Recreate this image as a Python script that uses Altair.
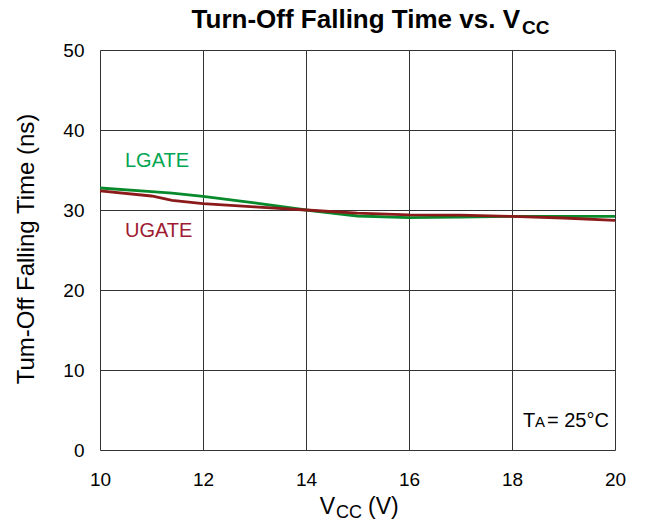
import altair as alt
import pandas as pd

vcc = [10, 11, 11.4, 12, 13, 14, 15, 16, 17, 18, 19, 20]
lgate = [32.75, 32.3, 32.1, 31.7, 30.9, 30.0, 29.25, 29.05, 29.1, 29.2, 29.2, 29.2]
ugate = [32.4, 31.75, 31.2, 30.8, 30.4, 30.0, 29.6, 29.4, 29.35, 29.2, 29.0, 28.7]

x_ticks = [10, 12, 14, 16, 18, 20]
y_ticks = [0, 10, 20, 30, 40, 50]

FONT = "Liberation Sans"
GREEN_LINE = "#088a2c"
RED_LINE = "#8b1a1a"
GREEN_TXT = "#00a651"
RED_TXT = "#9e1b32"

rows = []
for v, l, u in zip(vcc, lgate, ugate):
    rows.append({"vcc": v, "t": l, "s": "LGATE"})
    rows.append({"vcc": v, "t": u, "s": "UGATE"})
df = pd.DataFrame(rows)

xs = alt.Scale(domain=[10, 20], nice=False, zero=False)
ys = alt.Scale(domain=[0, 50], nice=False)

lines = alt.Chart(df).mark_line(strokeWidth=2.8).encode(
    x=alt.X("vcc:Q", scale=xs, axis=alt.Axis(values=x_ticks, title=None, grid=True,
            gridColor="#333333", gridWidth=1, domain=False, ticks=False, labelFlush=False,
            labelFontSize=19, labelFont=FONT, labelColor="black", labelPadding=20)),
    y=alt.Y("t:Q", scale=ys, axis=alt.Axis(values=y_ticks, title=None, grid=True,
            gridColor="#333333", gridWidth=1, domain=False, ticks=False, labelFlush=False,
            labelFontSize=19, labelFont=FONT, labelColor="black", labelPadding=16)),
    color=alt.Color("s:N", scale=alt.Scale(domain=["UGATE", "LGATE"], range=[RED_LINE, GREEN_LINE]), legend=None),
    order=alt.Order("vcc:Q"),
)

one = pd.DataFrame({"a": [0]})

def txt(text, x, y, size, color="black", weight="normal", align="left", baseline="alphabetic", angle=0):
    kw = dict(fontSize=size, font=FONT, color=color, fontWeight=weight, align=align, baseline=baseline)
    if angle:
        kw["angle"] = angle
    return alt.Chart(one).mark_text(**kw).encode(x=alt.value(x), y=alt.value(y), text=alt.value(text))

labels = [
    txt("Turn-Off Falling Time vs. V", 420, -22, 26, weight="bold", align="right"),
    txt("CC", 422, -16, 19, weight="bold"),
    txt("V", 235, 464, 23, align="right"),
    txt("CC", 236, 468, 18),
    txt("(V)", 268, 464, 23),
    txt("Tum-Off Falling Time (ns)", -73, 199, 24, align="center", baseline="middle", angle=270),
    txt("LGATE", 25, 111, 20, color=GREEN_TXT, baseline="middle"),
    txt("UGATE", 25, 181, 20, color=RED_TXT, baseline="middle"),
    txt("T", 423, 377, 20),
    txt("A", 435, 377, 15),
    txt("= 25°C", 447, 377, 20),
]

chart = alt.layer(lines, *labels).properties(
    width=515, height=400,
    padding={"left": 92, "top": 42, "right": 22, "bottom": 71},
    autosize=alt.AutoSizeParams(type="none"),
).configure_view(stroke="black", strokeWidth=1.5).configure(background="white")

chart.save("out.html", embed_options={"renderer": "svg", "actions": False})
